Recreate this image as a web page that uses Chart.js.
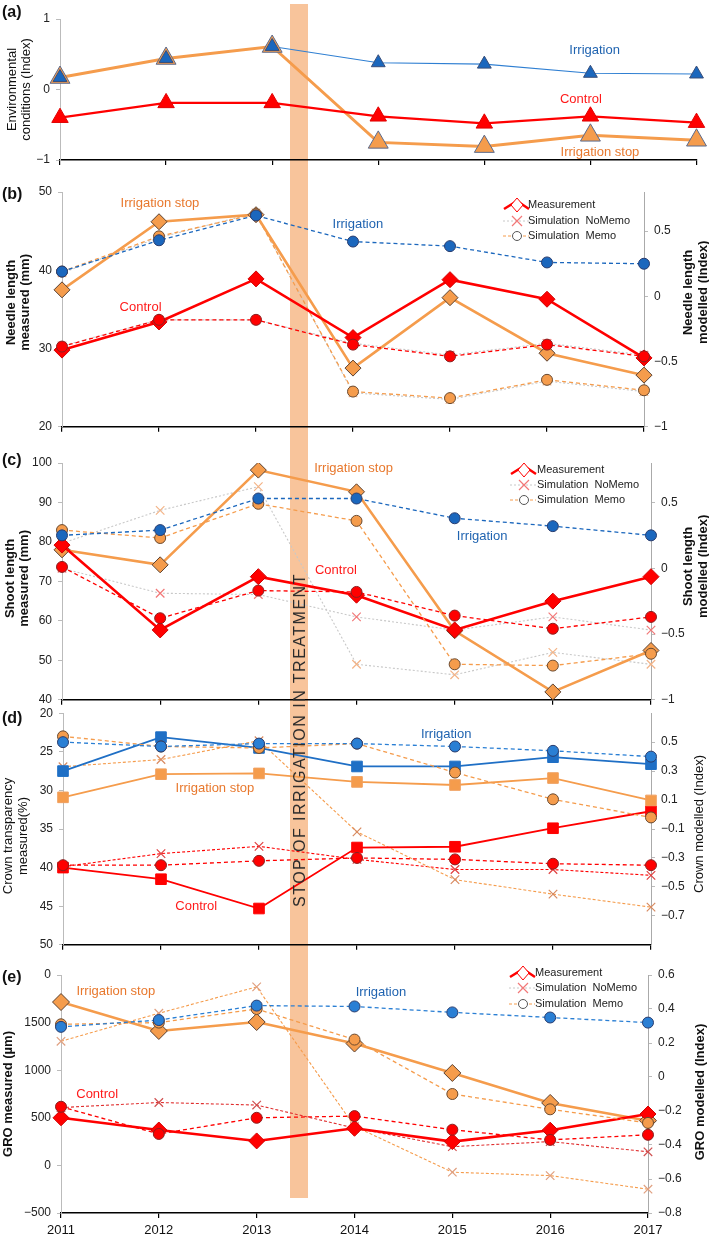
<!DOCTYPE html>
<html>
<head>
<meta charset="utf-8">
<script src="https://cdn.jsdelivr.net/npm/chart.js@4.4.0/dist/chart.umd.min.js"></script>
<style>
  body { margin: 0; background: #fff; width: 709px; height: 1235px; position: relative; overflow: hidden;
         font-family: "Liberation Sans", Arial, Helvetica, sans-serif; }
  canvas { position: absolute; left: 0; }
  .tag { position: absolute; left: 2px; font-weight: bold; font-size: 16px; line-height: 18px; color: #111; }
  #band { position: absolute; top: 4px; height: 1194px; background: rgb(248, 196, 155); }
  #bandText { position: absolute; top: 740px; width: 0; }
  #bandText span { position: absolute; left: 0; top: 0; white-space: nowrap; font-size: 16px; letter-spacing: 1.5px;
                   color: #2a2a2a; transform: translate(-50%, -50%) rotate(-90deg); }
</style>
</head>
<body>
<div id="band"></div>
<canvas id="ca" width="709" height="175" style="top:0px"></canvas>
<canvas id="cb" width="709" height="262" style="top:178px"></canvas>
<canvas id="cc" width="709" height="265" style="top:448px"></canvas>
<canvas id="cd" width="709" height="258" style="top:700px"></canvas>
<canvas id="ce" width="709" height="277" style="top:958px"></canvas>
<div id="bandText"><span>STOP OF IRRIGATION IN TREATMENT</span></div>
<div class="tag" style="top:3px">(a)</div>
<div class="tag" style="top:185px">(b)</div>
<div class="tag" style="top:451px">(c)</div>
<div class="tag" style="top:709px">(d)</div>
<div class="tag" style="top:968px">(e)</div>
<script>
// years
const years = ['2011', '2012', '2013', '2014', '2015', '2016', '2017'];

// (a) environmental conditions (index)
const envIrrigation = [0.17, 0.44, 0.61, 0.38, 0.36, 0.23, 0.22];
const envControl = [-0.40, -0.19, -0.19, -0.38, -0.48, -0.38, -0.47];
const envStop = [0.17, 0.44, 0.61, -0.75, -0.81, -0.65, -0.72];
const envTicks = [-1, 0, 1];

// (b) needle length: measured (mm) and modelled (index)
const needleStopMeas = [37.5, 46.2, 47.1, 27.5, 36.5, 29.4, 26.6];
const needleControlMeas = [29.8, 33.4, 38.9, 31.4, 38.8, 36.3, 28.8];
const needleIrrMemo = [0.19, 0.43, 0.62, 0.42, 0.385, 0.26, 0.25];
const needleStopMemo = [0.19, 0.46, 0.63, -0.73, -0.78, -0.64, -0.72];
const needleControlMemo = [-0.385, -0.18, -0.18, -0.37, -0.46, -0.37, -0.46];
const needleStopNoMemo = [0.18, 0.45, 0.64, -0.74, -0.79, -0.65, -0.73];
const needleControlNoMemo = [-0.38, -0.18, -0.18, -0.36, -0.45, -0.36, -0.45];
const needleLeftTicks = [20, 30, 40, 50];
const needleRightTicks = [-1, -0.5, 0, 0.5];

// (c) shoot length
const shootStopMeas = [78, 74.2, 98.2, 92.7, 57.5, 42, 52.5];
const shootControlMeas = [79.2, 57.7, 71.2, 66.5, 57.7, 65, 71.2];
const shootIrrMemo = [0.25, 0.29, 0.53, 0.53, 0.38, 0.32, 0.25];
const shootStopMemo = [0.29, 0.23, 0.49, 0.36, -0.73, -0.74, -0.65];
const shootControlMemo = [0.01, -0.38, -0.17, -0.18, -0.36, -0.46, -0.37];
const shootStopNoMemo = [0.19, 0.44, 0.62, -0.73, -0.81, -0.64, -0.73];
const shootControlNoMemo = [0.0, -0.19, -0.20, -0.37, -0.47, -0.37, -0.47];
const shootLeftTicks = [40, 50, 60, 70, 80, 90, 100];
const shootRightTicks = [-1, -0.5, 0, 0.5];

// (d) crown transparency
const crownIrrMeas = [27.5, 23.1, 24.5, 26.9, 26.9, 25.7, 26.6];
const crownStopMeas = [30.9, 27.9, 27.8, 28.9, 29.3, 28.4, 31.3];
const crownControlMeas = [40.0, 41.5, 45.3, 37.4, 37.3, 34.9, 32.7];
const crownIrrMemo = [0.50, 0.47, 0.49, 0.49, 0.47, 0.44, 0.40];
const crownStopMemo = [0.54, 0.47, 0.46, 0.49, 0.29, 0.105, -0.02];
const crownControlMemo = [-0.35, -0.35, -0.32, -0.30, -0.31, -0.34, -0.35];
const crownStopNoMemo = [0.33, 0.38, 0.51, -0.12, -0.45, -0.55, -0.64];
const crownControlNoMemo = [-0.36, -0.27, -0.22, -0.31, -0.38, -0.38, -0.42];
const crownLeftTicks = [20, 25, 30, 35, 40, 45, 50];
const crownRightTicks = [-0.7, -0.5, -0.3, -0.1, 0.1, 0.3, 0.5];

// (e) GRO
const groStopMeas = [1716, 1412, 1506, 1280, 971, 656, 470];
const groControlMeas = [500, 372, 257, 390, 250, 370, 540];
const groIrrMemo = [0.295, 0.335, 0.42, 0.415, 0.38, 0.35, 0.32];
const groStopMemo = [0.31, 0.32, 0.40, 0.22, -0.10, -0.19, -0.27];
const groControlMemo = [-0.175, -0.335, -0.24, -0.23, -0.31, -0.37, -0.34];
const groStopNoMemo = [0.21, 0.375, 0.53, -0.29, -0.56, -0.58, -0.66];
const groControlNoMemo = [-0.18, -0.15, -0.165, -0.30, -0.41, -0.38, -0.44];
const groLeftTicks = [-500, 0, 500, 1000, 1500, 2000];
const groLeftLabels = ['\u2212500', '0', '500', '1000', '1500', '0'];
const groRightTicks = [-0.8, -0.6, -0.4, -0.2, 0, 0.2, 0.4, 0.6];

const FONT = '"Liberation Sans", Arial, Helvetica, sans-serif';
Chart.defaults.font.family = FONT;

const BLUE = '#1b67bd', RED = '#ff0000', ORANGE = '#f59c4c';
const TXT_BLUE = '#1f63b0', TXT_RED = '#ff1a1a', TXT_ORANGE = '#e8782d';

const fmt = v => (v < 0 ? '\u2212' : '') + Math.abs(v);

function measured(data, color, style, r, edge, w) {
  return { data, yAxisID: 'y', borderColor: color, borderWidth: w, pointStyle: style, pointRadius: r,
           pointBackgroundColor: color, pointBorderColor: edge, pointBorderWidth: 1 };
}
function memo(data, color, edge) {
  return { data, yAxisID: 'y2', borderColor: color, borderWidth: 1.3, borderDash: [4, 3], pointStyle: 'circle',
           pointRadius: 5.5, pointBackgroundColor: color, pointBorderColor: edge, pointBorderWidth: 1 };
}
function noMemo(data, lineColor, xColor, dash) {
  return { data, yAxisID: 'y2', borderColor: lineColor, borderWidth: 1.1, borderDash: dash, pointStyle: 'crossRot',
           pointRadius: 6, pointBackgroundColor: xColor, pointBorderColor: xColor, pointBorderWidth: 1.2 };
}

function drawLegend(ctx, lg, top) {
  const x = lg.x, rows = lg.rows.map(y => y - top);
  ctx.save();
  ctx.font = '11px ' + FONT;
  ctx.textAlign = 'left';
  ctx.textBaseline = 'middle';
  // Measurement
  ctx.strokeStyle = RED; ctx.lineWidth = 2.5;
  ctx.beginPath(); ctx.moveTo(x - 13, rows[0] + 4); ctx.lineTo(x, rows[0] - 4); ctx.lineTo(x + 12, rows[0] + 4); ctx.stroke();
  ctx.fillStyle = '#fff'; ctx.lineWidth = 1;
  ctx.beginPath(); ctx.moveTo(x, rows[0] - 7); ctx.lineTo(x + 6, rows[0]); ctx.lineTo(x, rows[0] + 7); ctx.lineTo(x - 6, rows[0]); ctx.closePath();
  ctx.fill(); ctx.stroke();
  // NoMemo
  ctx.strokeStyle = '#c8c8c8'; ctx.setLineDash([2, 2]);
  ctx.beginPath(); ctx.moveTo(x - 14, rows[1]); ctx.lineTo(x + 12, rows[1]); ctx.stroke();
  ctx.setLineDash([]); ctx.strokeStyle = '#f27878'; ctx.lineWidth = 1.2;
  ctx.beginPath(); ctx.moveTo(x - 5, rows[1] - 5); ctx.lineTo(x + 5, rows[1] + 5);
  ctx.moveTo(x + 5, rows[1] - 5); ctx.lineTo(x - 5, rows[1] + 5); ctx.stroke();
  // Memo
  ctx.strokeStyle = ORANGE; ctx.setLineDash([3, 2]); ctx.lineWidth = 1;
  ctx.beginPath(); ctx.moveTo(x - 14, rows[2]); ctx.lineTo(x + 12, rows[2]); ctx.stroke();
  ctx.setLineDash([]); ctx.strokeStyle = '#555'; ctx.fillStyle = '#fff';
  ctx.beginPath(); ctx.arc(x, rows[2], 4.5, 0, Math.PI * 2); ctx.fill(); ctx.stroke();
  ctx.fillStyle = '#222';
  ['Measurement', 'Simulation  NoMemo', 'Simulation  Memo'].forEach((t, i) => ctx.fillText(t, lg.tx, rows[i]));
  ctx.restore();
}

function drawTitle(ctx, t, cy) {
  ctx.save();
  ctx.font = (t.bold ? 'bold ' : '') + '13px ' + FONT;
  ctx.fillStyle = '#111';
  ctx.textAlign = 'center';
  ctx.textBaseline = 'middle';
  t.lines.forEach((line, i) => {
    ctx.save();
    ctx.translate(t.xs[i], cy + t.dy);
    ctx.rotate(-Math.PI / 2);
    ctx.fillText(line, 0, 0);
    ctx.restore();
  });
  ctx.restore();
}

function panel(id, p) {
  const decor = {
    id: 'decor',
    afterDraw(chart) {
      const ctx = chart.ctx, xs = chart.scales.x, ys = chart.scales.y;
      const cy = (chart.chartArea.top + chart.chartArea.bottom) / 2;
      ctx.save();
      ctx.font = '13px ' + FONT;
      ctx.textAlign = 'center';
      ctx.textBaseline = 'middle';
      p.labels.forEach(l => {
        ctx.fillStyle = l.color;
        ctx.fillText(l.text, xs.getPixelForValue(l.x), ys.getPixelForValue(l.y));
      });
      ctx.restore();
      drawTitle(ctx, p.leftTitle, cy);
      if (p.rightTitle) drawTitle(ctx, p.rightTitle, cy);
      if (p.legend) drawLegend(ctx, p.legend, p.top);
    }
  };

  const scales = {
    x: {
      type: 'category', offset: false,
      ticks: { display: !!p.xLabels, color: '#111', font: { size: 13 }, padding: 5, maxRotation: 0, autoSkip: false },
      grid: { display: true, drawOnChartArea: false, drawTicks: true, tickLength: 5, color: '#000', lineWidth: 1.2 },
      border: { display: true, color: '#000', width: 1.5 },
      afterFit: s => { s.height = p.xh; }
    },
    y: {
      position: 'left', min: p.left.min, max: p.left.max, reverse: !!p.left.reverse,
      afterBuildTicks: s => { s.ticks = p.left.ticks.map(v => ({ value: v })); },
      ticks: { callback: p.left.labels ? (v, i) => p.left.labels[i] : fmt, color: '#222', font: { size: 12 }, padding: 6 },
      grid: { display: true, drawOnChartArea: false, tickLength: 4, color: '#bbb' },
      border: { color: '#bbb' },
      afterFit: s => { s.width = p.leftW; }
    }
  };
  if (p.right) {
    scales.y2 = {
      position: 'right', min: p.right.min, max: p.right.max,
      afterBuildTicks: s => { s.ticks = p.right.ticks.map(v => ({ value: v })); },
      ticks: { callback: fmt, color: '#222', font: { size: 12 }, padding: 6 },
      grid: { display: true, drawOnChartArea: false, tickLength: 4, color: '#bbb' },
      border: { color: '#aaa' },
      afterFit: s => { s.width = p.rightW; }
    };
  }

  return new Chart(document.getElementById(id), {
    type: 'line',
    data: { labels: years, datasets: p.datasets },
    options: {
      responsive: false, animation: false, devicePixelRatio: 1,
      layout: { padding: { top: p.padTop, bottom: p.padBottom, left: 0, right: 0 } },
      elements: { line: { tension: 0 } },
      plugins: { legend: { display: false }, tooltip: { enabled: false } },
      scales
    },
    plugins: [decor]
  });
}

// (a)
panel('ca', {
  top: 0, padTop: 19, padBottom: 7, xh: 8, leftW: 60, rightW: 67,
  left: { min: -1, max: 1, ticks: envTicks },
  leftTitle: { lines: ['Environmental', 'conditions (Index)'], xs: [12, 26], dy: 0, bold: false },
  labels: [
    { text: 'Irrigation', color: TXT_BLUE, x: 5.04, y: 0.55 },
    { text: 'Control', color: TXT_RED, x: 4.91, y: -0.14 },
    { text: 'Irrigation stop', color: TXT_ORANGE, x: 5.09, y: -0.89 }
  ],
  datasets: [
    { data: envIrrigation, showLine: false, pointStyle: 'triangle', pointRadius: 8,
      pointBackgroundColor: BLUE, pointBorderColor: '#3a4f7a', pointBorderWidth: 1 },
    { data: envControl, borderColor: RED, borderWidth: 2.2, pointStyle: 'triangle', pointRadius: 9.5,
      pointBackgroundColor: RED, pointBorderColor: '#e00000', pointBorderWidth: 1 },
    { data: envStop, borderColor: ORANGE, borderWidth: 3, pointStyle: 'triangle', pointRadius: 11.5,
      pointBackgroundColor: ORANGE, pointBorderColor: '#5b6a8c', pointBorderWidth: 1 },
    { data: envIrrigation, borderColor: '#2f7fd2', borderWidth: 1.1, pointRadius: 0 }
  ]
});

// (b)
panel('cb', {
  top: 178, padTop: 14, padBottom: 5, xh: 8, leftW: 62, rightW: 65,
  left: { min: 20, max: 50, ticks: needleLeftTicks },
  right: { min: -1, max: 0.8, ticks: needleRightTicks },
  leftTitle: { lines: ['Needle length', 'measured (mm)'], xs: [11, 25], dy: -7, bold: true },
  rightTitle: { lines: ['Needle length', 'modelled (Index)'], xs: [688, 703], dy: -17, bold: true },
  legend: { x: 517, tx: 528, rows: [205, 221, 236] },
  labels: [
    { text: 'Irrigation stop', color: TXT_ORANGE, x: 1.01, y: 48.5 },
    { text: 'Control', color: TXT_RED, x: 0.81, y: 35.3 },
    { text: 'Irrigation', color: TXT_BLUE, x: 3.05, y: 45.8 }
  ],
  datasets: [
    memo(needleIrrMemo, BLUE, '#2a3d6e'),
    memo(needleControlMemo, RED, '#8a2020'),
    measured(needleControlMeas, RED, 'rectRot', 8, '#d00000', 2.6),
    memo(needleStopMemo, ORANGE, '#6a4a30'),
    measured(needleStopMeas, ORANGE, 'rectRot', 8, '#5a4030', 2.6),
    noMemo(needleStopNoMemo, '#c8c8c8', '#f3b488', [2, 2]),
    noMemo(needleControlNoMemo, '#c8c8c8', '#f27878', [2, 2])
  ]
});

// (c)
panel('cc', {
  top: 448, padTop: 15, padBottom: 2, xh: 8, leftW: 62, rightW: 58,
  left: { min: 40, max: 100, ticks: shootLeftTicks },
  right: { min: -1, max: 0.8, ticks: shootRightTicks },
  leftTitle: { lines: ['Shoot length', 'measured (mm)'], xs: [10, 24], dy: -3, bold: true },
  rightTitle: { lines: ['Shoot length', 'modelled (Index)'], xs: [688, 703], dy: -15, bold: true },
  legend: { x: 524, tx: 537, rows: [470, 485, 500] },
  labels: [
    { text: 'Irrigation stop', color: TXT_ORANGE, x: 2.97, y: 98.75 },
    { text: 'Control', color: TXT_RED, x: 2.79, y: 72.75 },
    { text: 'Irrigation', color: TXT_BLUE, x: 4.28, y: 81.5 }
  ],
  datasets: [
    memo(shootIrrMemo, BLUE, '#2a3d6e'),
    memo(shootControlMemo, RED, '#8a2020'),
    memo(shootStopMemo, ORANGE, '#6a4a30'),
    measured(shootControlMeas, RED, 'rectRot', 8, '#d00000', 2.6),
    measured(shootStopMeas, ORANGE, 'rectRot', 8, '#5a4030', 2.6),
    noMemo(shootStopNoMemo, '#c8c8c8', '#f3b488', [2, 2]),
    noMemo(shootControlNoMemo, '#c8c8c8', '#f27878', [2, 2])
  ]
});

// (d)
panel('cd', {
  top: 700, padTop: 13, padBottom: 1, xh: 8, leftW: 63, rightW: 58,
  left: { min: 20, max: 50, reverse: true, ticks: crownLeftTicks },
  right: { min: -0.9, max: 0.7, ticks: crownRightTicks },
  leftTitle: { lines: ['Crown transparency', 'measured(%)'], xs: [8, 23], dy: 7, bold: false },
  rightTitle: { lines: ['Crown modelled (Index)'], xs: [699], dy: -5, bold: false },
  labels: [
    { text: 'Irrigation', color: TXT_BLUE, x: 3.91, y: 22.7 },
    { text: 'Irrigation stop', color: TXT_ORANGE, x: 1.55, y: 29.8 },
    { text: 'Control', color: TXT_RED, x: 1.36, y: 45 }
  ],
  datasets: [
    memo(crownIrrMemo, '#2a7fd4', '#2a3d6e'),
    memo(crownStopMemo, ORANGE, '#6a4a30'),
    memo(crownControlMemo, RED, '#8a2020'),
    measured(crownIrrMeas, '#1f6fc5', 'rect', 7.5, '#1f6fc5', 1.8),
    measured(crownStopMeas, ORANGE, 'rect', 7.5, '#f0a060', 1.8),
    measured(crownControlMeas, RED, 'rect', 7.5, RED, 1.8),
    noMemo(crownStopNoMemo, ORANGE, '#d88a60', [3, 2]),
    noMemo(crownControlNoMemo, RED, '#e04040', [3, 2])
  ]
});

// (e)
const chartE = panel('ce', {
  top: 958, padTop: 17, padBottom: 0, xh: 22, xLabels: true, leftW: 61, rightW: 61,
  left: { min: -500, max: 2000, ticks: groLeftTicks, labels: groLeftLabels },
  right: { min: -0.8, max: 0.6, ticks: groRightTicks },
  leftTitle: { lines: ['GRO measured (\u00b5m)'], xs: [8], dy: 0, bold: true },
  rightTitle: { lines: ['GRO modelled (Index)'], xs: [700], dy: -2, bold: true },
  legend: { x: 523, tx: 535, rows: [973, 988, 1004] },
  labels: [
    { text: 'Irrigation stop', color: TXT_ORANGE, x: 0.56, y: 1832 },
    { text: 'Control', color: TXT_RED, x: 0.37, y: 750 },
    { text: 'Irrigation', color: TXT_BLUE, x: 3.27, y: 1822 }
  ],
  datasets: [
    memo(groIrrMemo, '#2a7fd4', '#2a3d6e'),
    memo(groControlMemo, RED, '#8a2020'),
    memo(groStopMemo, ORANGE, '#6a4a30'),
    measured(groControlMeas, RED, 'rectRot', 8, '#d00000', 2.6),
    measured(groStopMeas, ORANGE, 'rectRot', 8.5, '#5a4030', 2.6),
    noMemo(groStopNoMemo, ORANGE, '#e0a080', [3, 2]),
    noMemo(groControlNoMemo, '#e03030', '#d05050', [3, 2])
  ]
});

// treatment stop band, placed between 2013 and 2014 using the x scale
const bandFrom = 2.34, bandTo = 2.52;
const xsE = chartE.scales.x;
const band = document.getElementById('band');
const bl = xsE.getPixelForValue(bandFrom), br = xsE.getPixelForValue(bandTo);
band.style.left = bl + 'px';
band.style.width = (br - bl) + 'px';
document.getElementById('bandText').style.left = ((bl + br) / 2 + 1) + 'px';
</script>
</body>
</html>
